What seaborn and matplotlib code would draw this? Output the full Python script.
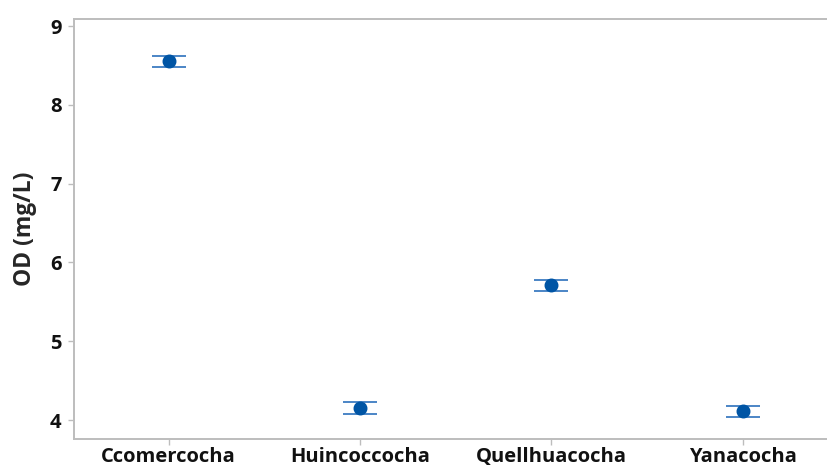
import numpy as np
import pandas as pd
import matplotlib
matplotlib.use("Agg")
import matplotlib.pyplot as plt
import seaborn as sns

# Dissolved oxygen per lagoon: mean and half-width of the interval
lagunas = ["Ccomercocha", "Huincoccocha", "Quellhuacocha", "Yanacocha"]
od_media = [8.55, 4.155, 5.707, 4.108]
od_error = [0.075, 0.076, 0.076, 0.074]
y_ticks = [4, 5, 6, 7, 8, 9]

sns.set_theme(style="white")
plt.rcParams["font.family"] = ["Open Sans", "DejaVu Sans"]

df = pd.DataFrame({"Laguna": lagunas, "OD": od_media})

fig = plt.figure(figsize=(8.27, 4.68), dpi=100)
ax = fig.add_axes([74 / 827, 1 - 439 / 468, 1 - 74 / 827, 420 / 468])

pos = np.arange(len(lagunas))
ax.errorbar(pos, od_media, yerr=od_error, fmt="none", ecolor="#3D7CC2",
            elinewidth=1.1, capsize=12.2, capthick=1.3, zorder=2)
sns.pointplot(data=df, x="Laguna", y="OD", errorbar=None, linestyle="none",
              color="#0055A5", markers="o", markersize=8, ax=ax, zorder=3)

ax.set_xlim(-0.494, 3.44)
ax.set_ylim(3.759, 9.089)
ax.set_yticks(y_ticks)
ax.set_yticklabels([str(t) for t in y_ticks])
ax.set_xlabel("")
ax.set_ylabel("OD (mg/L)", fontsize=16.5, fontweight="bold", labelpad=9)

for side in ["left", "bottom", "top"]:
    ax.spines[side].set_color("#BDBDBD")
    ax.spines[side].set_linewidth(1.4)
ax.spines["right"].set_visible(False)

ax.tick_params(axis="both", which="both", direction="out", length=4,
               width=1, color="#BDBDBD", labelsize=14.5, bottom=True, left=True)
ax.tick_params(axis="x", pad=2)
ax.tick_params(axis="y", pad=5)
for lab in ax.get_xticklabels() + ax.get_yticklabels():
    lab.set_fontweight("bold")
    lab.set_color("#111111")

fig.savefig("out.png", dpi=100)
